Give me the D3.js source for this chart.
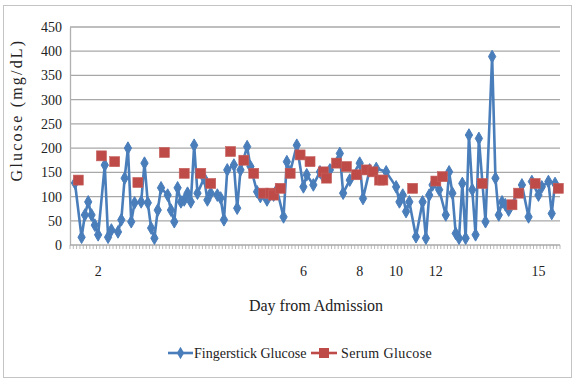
<!DOCTYPE html>
<html>
<head>
<meta charset="utf-8">
<script src="https://cdn.jsdelivr.net/npm/d3@7"></script>
<style>
  body { margin: 0; background: #fff; }
</style>
</head>
<body>
<div id="chart-container"></div>
<script>
// Data: one slot per reading (category), null where no reading
const categoryCount = 148;
const tickIndex = [8, 70, 87, 98, 110, 141];
const tickLabels = ["2", "6", "8", "10", "12", "15"];
const yTicks = [0, 50, 100, 150, 200, 250, 300, 350, 400, 450];

const fingerstick = new Array(categoryCount).fill(null);
const serum = new Array(categoryCount).fill(null);

const fingerstickIdx = [1, 3, 4, 5, 6, 7, 8, 10, 11, 12, 14, 15, 16, 17, 18, 19, 21, 22, 23, 24, 25, 26, 27, 29, 30, 31, 32, 33, 34, 35, 36, 37, 38, 40, 41, 42, 44, 45, 46, 47, 49, 50, 51, 53, 54, 56, 57, 59, 61, 62, 64, 65, 66, 68, 70, 71, 73, 75, 76, 78, 81, 82, 84, 87, 88, 90, 92, 95, 98, 99, 100, 101, 102, 104, 106, 107, 108, 109, 111, 113, 114, 115, 116, 117, 118, 119, 120, 121, 122, 123, 125, 127, 128, 129, 130, 131, 132, 136, 138, 139, 141, 142, 144, 145, 146];
const fingerstickVal = [128, 16, 62, 89, 62, 41, 21, 165, 16, 31, 27, 52, 138, 200, 48, 87, 89, 169, 87, 35, 14, 72, 118, 103, 72, 48, 118, 89, 93, 107, 89, 206, 107, 138, 93, 107, 103, 97, 52, 155, 165, 76, 155, 203, 162, 110, 100, 93, 103, 114, 58, 172, 151, 206, 120, 145, 124, 151, 141, 155, 189, 107, 134, 169, 96, 155, 158, 151, 120, 89, 103, 69, 89, 17, 89, 14, 103, 124, 114, 62, 151, 107, 24, 14, 127, 14, 227, 114, 21, 220, 48, 389, 138, 62, 89, 83, 72, 124, 58, 131, 103, 120, 131, 65, 127];

const serumIdx = [2, 9, 13, 20, 28, 34, 39, 42, 48, 52, 55, 58, 60, 61, 63, 66, 69, 72, 76, 77, 80, 83, 86, 89, 91, 93, 94, 103, 110, 112, 124, 133, 135, 140, 147];
const serumVal = [134, 184, 172, 129, 191, 148, 148, 127, 193, 175, 148, 107, 107, 103, 117, 148, 186, 172, 151, 138, 169, 162, 145, 155, 151, 134, 134, 117, 132, 141, 127, 83, 107, 127, 117];

fingerstickIdx.forEach((k, i) => { fingerstick[k] = fingerstickVal[i]; });
serumIdx.forEach((k, i) => { serum[k] = serumVal[i]; });

const blue = "#4a7ebb";
const red = "#be4b48";
const font = "Liberation Serif";

document.addEventListener("DOMContentLoaded", function () {
  var W = 574, H = 381;
  var margin = { top: 27, right: 14, bottom: 136, left: 70 };

  var svg = d3.select("#chart-container").append("svg")
    .attr("width", W).attr("height", H)
    .attr("font-family", font)
    .style("display", "block");

  // chart border
  svg.append("rect")
    .attr("x", 3.5).attr("y", 5.5)
    .attr("width", 568).attr("height", 372)
    .attr("fill", "#fff")
    .attr("stroke", "#c4c4c4");

  var x = d3.scaleBand()
    .domain(d3.range(categoryCount))
    .range([margin.left, W - margin.right]);
  var cx = (i) => x(i) + x.bandwidth() / 2;

  var y = d3.scaleLinear()
    .domain([0, 450])
    .range([H - margin.bottom, margin.top]);

  // gridlines
  svg.append("g")
    .selectAll("line")
    .data(yTicks.slice(1))
    .enter()
    .append("line")
    .attr("x1", margin.left).attr("x2", W - margin.right)
    .attr("y1", y).attr("y2", y)
    .attr("stroke", "#a8a8a8")
    .attr("stroke-width", 1.3);

  // y axis
  var yAxis = d3.axisLeft(y).tickValues(yTicks).tickSize(0).tickPadding(8);
  var gy = svg.append("g")
    .attr("transform", `translate(${margin.left},0)`)
    .call(yAxis)
    .attr("font-family", font)
    .attr("font-size", 14);
  gy.select(".domain").attr("stroke", "#b0b0b0").attr("stroke-width", 1.3);
  gy.selectAll("text").attr("fill", "#222");

  // x axis: line + a small tick at every category boundary
  var y0 = y(0);
  svg.append("line")
    .attr("x1", margin.left).attr("x2", W - margin.right)
    .attr("y1", y0).attr("y2", y0)
    .attr("stroke", "#a8a8a8").attr("stroke-width", 1.3);
  svg.append("g")
    .selectAll("line")
    .data(d3.range(categoryCount + 1))
    .enter()
    .append("line")
    .attr("x1", (i) => margin.left + i * x.step())
    .attr("x2", (i) => margin.left + i * x.step())
    .attr("y1", y0).attr("y2", y0 + 4)
    .attr("stroke", "#a8a8a8").attr("stroke-width", 0.8);

  svg.append("g")
    .selectAll("text")
    .data(tickIndex)
    .enter()
    .append("text")
    .attr("x", (d) => cx(d))
    .attr("y", 276)
    .attr("text-anchor", "middle")
    .attr("font-family", font)
    .attr("font-size", 14)
    .attr("fill", "#222")
    .text((d, i) => tickLabels[i]);

  // axis titles
  svg.append("text")
    .attr("x", 316).attr("y", 311)
    .attr("text-anchor", "middle")
    .attr("font-family", font)
    .attr("font-size", 16)
    .attr("fill", "#222")
    .text("Day from Admission");

  svg.append("text")
    .attr("transform", "translate(22,110) rotate(-90)")
    .attr("text-anchor", "middle")
    .attr("font-family", font)
    .attr("font-size", 16)
    .attr("letter-spacing", 2.2)
    .attr("fill", "#222")
    .text("Glucose (mg/dL)");

  // fingerstick series: connected through gaps
  var fsPoints = fingerstick
    .map((v, i) => ({ i: i, v: v }))
    .filter((d) => d.v != null);

  var line = d3.line()
    .x((d) => cx(d.i))
    .y((d) => y(d.v));

  svg.append("path")
    .datum(fsPoints)
    .attr("fill", "none")
    .attr("stroke", blue)
    .attr("stroke-width", 2.6)
    .attr("stroke-linejoin", "round")
    .attr("d", line);

  var diamond = d3.symbol().type(d3.symbolDiamond).size(46);
  svg.append("g")
    .selectAll("path")
    .data(fsPoints)
    .enter()
    .append("path")
    .attr("transform", (d) => `translate(${cx(d.i)},${y(d.v)})`)
    .attr("d", diamond)
    .attr("fill", blue)
    .attr("stroke", blue)
    .attr("stroke-width", 1);

  // serum series: gaps stay open
  var srPoints = serum.map((v, i) => ({ i: i, v: v }));
  var srLine = d3.line()
    .defined((d) => d.v != null)
    .x((d) => cx(d.i))
    .y((d) => y(d.v));

  svg.append("path")
    .datum(srPoints)
    .attr("fill", "none")
    .attr("stroke", red)
    .attr("stroke-width", 2.6)
    .attr("d", srLine);

  svg.append("g")
    .selectAll("rect")
    .data(srPoints.filter((d) => d.v != null))
    .enter()
    .append("rect")
    .attr("x", (d) => cx(d.i) - 5)
    .attr("y", (d) => y(d.v) - 5)
    .attr("width", 10)
    .attr("height", 10)
    .attr("fill", red)
    .attr("stroke", "#c5605d")
    .attr("stroke-width", 0.6);

  // legend
  var legend = svg.append("g").attr("transform", "translate(0,353)");
  legend.append("line")
    .attr("x1", 168).attr("x2", 193).attr("y1", 0).attr("y2", 0)
    .attr("stroke", blue).attr("stroke-width", 2.6);
  legend.append("path")
    .attr("transform", "translate(180.5,0)")
    .attr("d", diamond)
    .attr("fill", blue);
  legend.append("text")
    .attr("x", 194).attr("y", 4.5)
    .attr("font-family", font)
    .attr("font-size", 14).attr("fill", "#222")
    .text("Fingerstick Glucose");

  legend.append("line")
    .attr("x1", 311).attr("x2", 337).attr("y1", 0).attr("y2", 0)
    .attr("stroke", red).attr("stroke-width", 2.6);
  legend.append("rect")
    .attr("x", 319).attr("y", -5).attr("width", 10).attr("height", 10)
    .attr("fill", red);
  legend.append("text")
    .attr("x", 341).attr("y", 4.5)
    .attr("font-family", font)
    .attr("font-size", 14).attr("fill", "#222")
    .attr("letter-spacing", 0.4)
    .text("Serum Glucose");
});
</script>
</body>
</html>
